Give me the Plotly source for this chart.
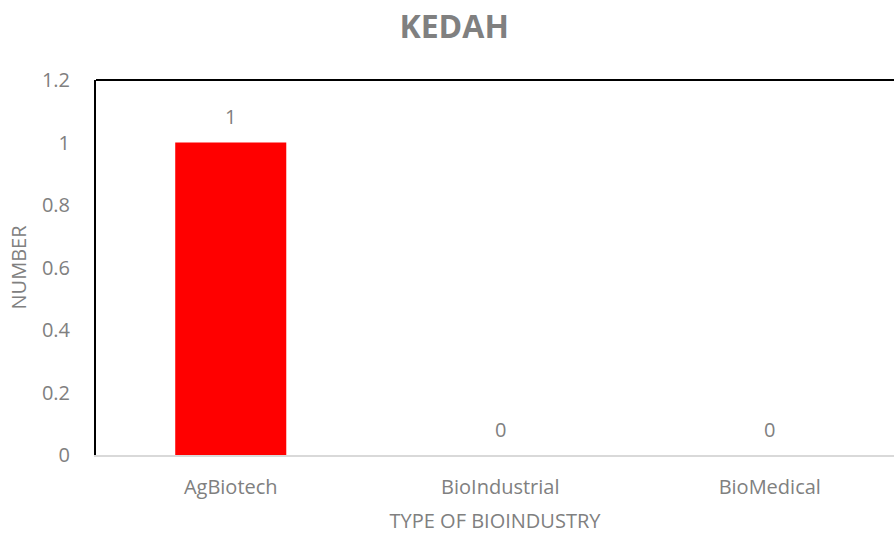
import plotly.graph_objects as go

categories = ["AgBiotech", "BioIndustrial", "BioMedical"]
values = [1, 0, 0]
tick_vals = [0, 0.2, 0.4, 0.6, 0.8, 1, 1.2]
tick_text = ["0", "0.2", "0.4", "0.6", "0.8", "1", "1.2"]

gray = "#808080"
font_family = "Open Sans"

fig = go.Figure()
fig.add_trace(go.Bar(
    x=categories, y=values,
    marker=dict(color="#ff0000", line=dict(width=0)),
    width=0.412,
    cliponaxis=False,
))

for c, v in zip(categories, values):
    fig.add_annotation(x=c, y=v, text=str(v), showarrow=False, yshift=26,
                       yanchor="middle", font=dict(color=gray, size=20, family=font_family))

fig.update_layout(
    width=894, height=534,
    margin=dict(l=96, r=0, t=80, b=79),
    paper_bgcolor="white", plot_bgcolor="white",
    showlegend=False,
    title=dict(text="<b>KEDAH</b>", x=0.508, xanchor="center", y=0.9494, yanchor="middle",
               yref="container", font=dict(size=32, color=gray, family=font_family)),
    xaxis=dict(
        range=[-0.5, 2.461],
        showline=True, linecolor="#d9d9d9", linewidth=2,
        showgrid=False, zeroline=False,
        ticks="outside", ticklen=13, tickcolor="rgba(0,0,0,0)",
        tickfont=dict(size=20, color=gray, family=font_family),
        title=dict(text="TYPE OF BIOINDUSTRY", font=dict(size=20, color=gray, family=font_family), standoff=18),
    ),
    yaxis=dict(
        range=[0, 1.2],
        tickvals=tick_vals, ticktext=tick_text,
        showline=True, linecolor="black", linewidth=2,
        showgrid=False, zeroline=False, ticks="outside", ticklen=20, tickcolor="rgba(0,0,0,0)",
        tickfont=dict(size=20, color=gray, family=font_family),
        title=dict(text="NUMBER", font=dict(size=20, color=gray, family=font_family), standoff=10),
    ),
)

fig.add_shape(type="line", xref="paper", yref="paper", x0=0, x1=1, y0=1, y1=1,
              line=dict(color="black", width=2))

fig.write_html("out.html", config={"displayModeBar": False},
               post_script="document.body.style.margin='0';")
